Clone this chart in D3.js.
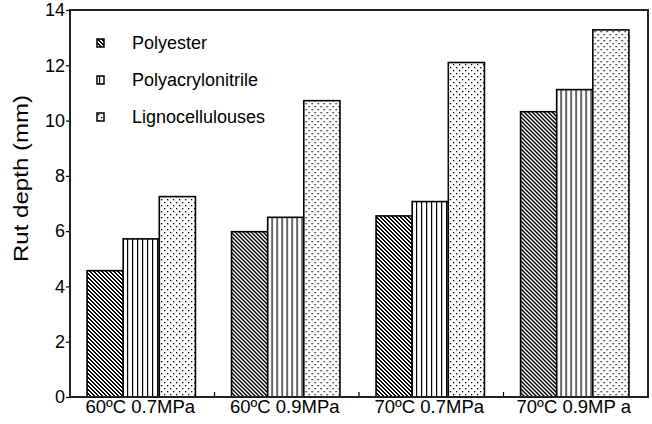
<!DOCTYPE html>
<html>
<head>
<meta charset="utf-8">
<script src="https://cdn.jsdelivr.net/npm/d3@7"></script>
<style>
  body { margin: 0; background: #fff; }
  svg { font-family: Arial, "Liberation Sans", sans-serif; }
</style>
</head>
<body>
<div id="chart"></div>
<script>
// data
const groups = ["60ºC 0.7MPa", "60ºC 0.9MPa", "70ºC 0.7MPa", "70ºC 0.9MP a"];
const seriesNames = ["Polyester", "Polyacrylonitrile", "Lignocellulouses"];
const polyester = [4.57, 5.98, 6.55, 10.32];
const polyacrylonitrile = [5.72, 6.5, 7.07, 11.12];
const lignocellulouses = [7.25, 10.72, 12.1, 13.28];
const yTicks = [0, 2, 4, 6, 8, 10, 12, 14];

const seriesValues = [polyester, polyacrylonitrile, lignocellulouses];
const patternIds = ["pat-diag", "pat-vert", "pat-dots"];

const width = 652, height = 424;
const margin = { top: 10, right: 4, bottom: 27, left: 70 };

const svg = d3.select("#chart").append("svg")
  .attr("width", width).attr("height", height);

// patterns
const defs = svg.append("defs");
const diag = defs.append("pattern").attr("id", "pat-diag")
  .attr("patternUnits", "userSpaceOnUse").attr("width", 4).attr("height", 4)
  .attr("shape-rendering", "crispEdges");
diag.append("rect").attr("width", 4).attr("height", 4).attr("fill", "#fff");
[[0, 0], [1, 1], [2, 2], [3, 3], [1, 0], [2, 1], [3, 2], [0, 3]].forEach(([px, py]) =>
  diag.append("rect").attr("x", px).attr("y", py).attr("width", 1).attr("height", 1).attr("fill", "#000"));

const vert = defs.append("pattern").attr("id", "pat-vert")
  .attr("patternUnits", "userSpaceOnUse").attr("width", 5).attr("height", 5);
vert.append("rect").attr("width", 5).attr("height", 5).attr("fill", "#fff");
vert.append("rect").attr("x", 2).attr("width", 1.2).attr("height", 5).attr("fill", "#000");

const dots = defs.append("pattern").attr("id", "pat-dots")
  .attr("patternUnits", "userSpaceOnUse").attr("width", 6).attr("height", 6);
dots.append("rect").attr("width", 6).attr("height", 6).attr("fill", "#fff");
dots.append("rect").attr("x", 1).attr("y", 1).attr("width", 1.3).attr("height", 1.3).attr("fill", "#000");
dots.append("rect").attr("x", 4).attr("y", 4).attr("width", 1.3).attr("height", 1.3).attr("fill", "#000");

const x0 = d3.scaleBand().domain(groups)
  .range([margin.left, width - margin.right]).paddingInner(0).paddingOuter(0);
const x1 = d3.scaleBand().domain(d3.range(seriesNames.length))
  .range([0, x0.bandwidth()]).paddingInner(0).paddingOuter(0.5);
const y = d3.scaleLinear().domain([0, 14]).range([height - margin.bottom, margin.top]);

// bars
const g = svg.append("g").selectAll("g").data(groups).join("g")
  .attr("transform", d => `translate(${x0(d)},0)`);
g.selectAll("rect").data((d, gi) => seriesValues.map((vals, si) => ({ si, v: vals[gi] })))
  .join("rect")
  .attr("x", d => x1(d.si) - 1)
  .attr("width", x1.bandwidth())
  .attr("y", d => y(d.v))
  .attr("height", d => y(0) - y(d.v))
  .attr("fill", d => `url(#${patternIds[d.si]})`)
  .attr("stroke", "#000").attr("stroke-width", 1.6);

// axes
const yAxis = svg.append("g").attr("transform", `translate(${margin.left},0)`)
  .call(d3.axisLeft(y).tickValues(yTicks).tickSize(4).tickPadding(1));
yAxis.select(".domain").remove();
yAxis.selectAll("text").attr("font-size", 18).attr("fill", "#000");
yAxis.selectAll("line").attr("stroke-width", 1.2);

const xAxis = svg.append("g").attr("transform", `translate(0,${height - margin.bottom})`)
  .call(d3.axisBottom(x0).tickSize(0).tickPadding(3));
xAxis.select(".domain").remove();
xAxis.selectAll("text").attr("font-size", 18.5).attr("fill", "#000").attr("dx", -2);
// group boundary ticks (inward)
svg.append("g").selectAll("line").data(groups.slice(1)).join("line")
  .attr("x1", d => x0(d)).attr("x2", d => x0(d))
  .attr("y1", y(0)).attr("y2", y(0) - 5)
  .attr("stroke", "#000").attr("stroke-width", 1.2);

// frame
svg.append("rect")
  .attr("x", margin.left).attr("y", margin.top)
  .attr("width", width - margin.left - margin.right)
  .attr("height", height - margin.top - margin.bottom)
  .attr("fill", "none").attr("stroke", "#222").attr("stroke-width", 2);

// y label
svg.append("text")
  .attr("transform", `translate(28,${(margin.top + height - margin.bottom) / 2 - 25}) rotate(-90)`)
  .attr("text-anchor", "middle").attr("font-size", 20)
  .attr("textLength", 167).attr("lengthAdjust", "spacingAndGlyphs")
  .text("Rut depth (mm)");

// legend
const legend = svg.append("g").selectAll("g").data(seriesNames).join("g")
  .attr("transform", (d, i) => `translate(97,${39 + i * 37})`);
legend.append("rect").attr("width", 7).attr("height", 8)
  .attr("fill", (d, i) => `url(#${patternIds[i]})`)
  .attr("stroke", "#000").attr("stroke-width", 1.5);
legend.append("text").attr("x", 35).attr("y", 10)
  .attr("font-size", 18).text(d => d);
</script>
</body>
</html>
